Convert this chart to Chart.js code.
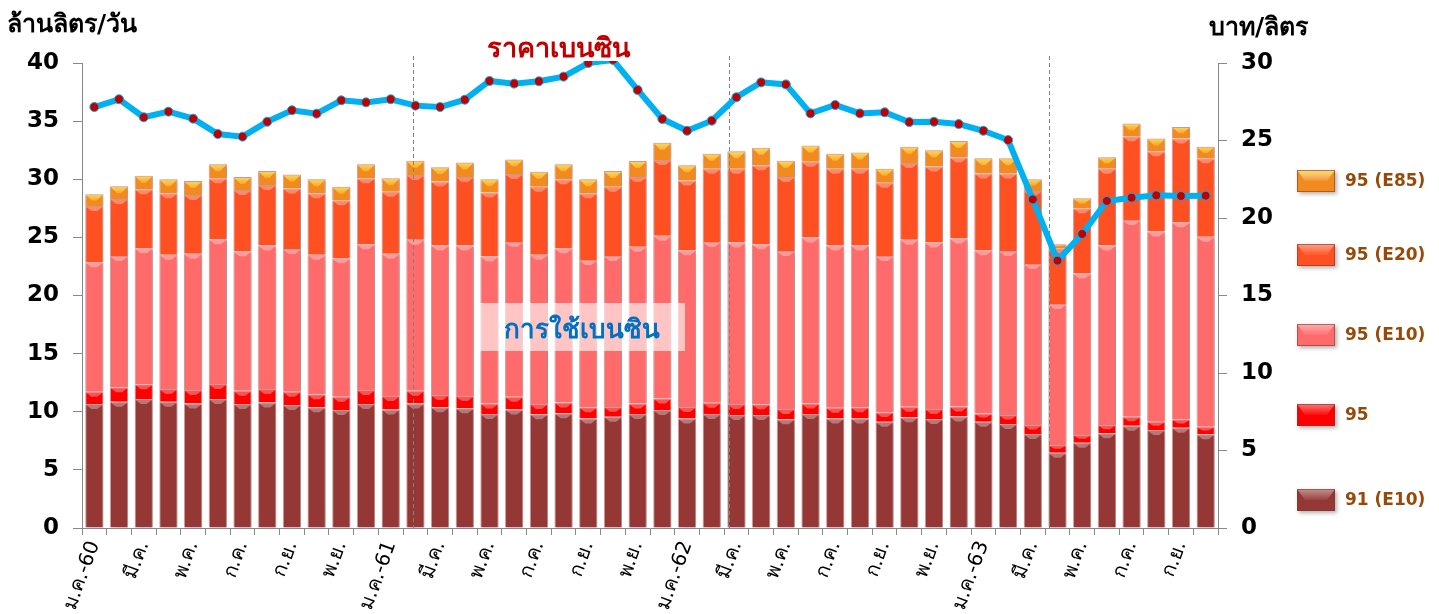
<!DOCTYPE html>
<html><head><meta charset="utf-8">
<script src="https://cdn.jsdelivr.net/npm/chart.js@4.4.0/dist/chart.umd.min.js"></script>
<style>html,body{margin:0;padding:0;background:#fff;overflow:hidden}#wrap{width:1439px;height:614px;position:relative}</style>
</head><body><div id="wrap"><canvas id="c" width="1439" height="614"></canvas></div>
<script>
const categories = ['ม.ค.-60','ก.พ.','มี.ค.','เม.ย.','พ.ค.','มิ.ย.','ก.ค.','ส.ค.','ก.ย.','ต.ค.','พ.ย.','ธ.ค.',
'ม.ค.-61','ก.พ.','มี.ค.','เม.ย.','พ.ค.','มิ.ย.','ก.ค.','ส.ค.','ก.ย.','ต.ค.','พ.ย.','ธ.ค.',
'ม.ค.-62','ก.พ.','มี.ค.','เม.ย.','พ.ค.','มิ.ย.','ก.ค.','ส.ค.','ก.ย.','ต.ค.','พ.ย.','ธ.ค.',
'ม.ค.-63','ก.พ.','มี.ค.','เม.ย.','พ.ค.','มิ.ย.','ก.ค.','ส.ค.','ก.ย.','ต.ค.'];
const tickLabels = categories.map((c,i)=> i%2===0 ? c : '');
const g91 = [10.67,10.87,11.1,10.87,10.7,11.1,10.67,10.8,10.58,10.38,10.15,10.67,10.2,10.7,10.38,10.3,9.8,10.2,9.78,9.87,9.43,9.58,9.8,10.15,9.43,9.8,9.72,9.72,9.35,9.8,9.43,9.43,9.15,9.52,9.38,9.6,9.15,8.95,8.09,6.48,7.34,8.14,8.8,8.43,8.63,8.06];
const g95 = [1.06,1.23,1.26,1.09,1.17,1.29,1.13,1.16,1.15,1.12,1.15,1.2,1.15,1.1,1.06,1.05,0.9,1.1,0.89,0.93,0.95,0.82,0.9,1.0,0.97,0.98,0.95,0.92,0.89,0.9,0.92,0.95,0.8,0.91,0.86,0.85,0.71,0.77,0.77,0.66,0.66,0.72,0.78,0.72,0.72,0.64];
const e10 = [11.12,11.3,11.7,11.54,11.73,12.44,12.0,12.34,12.27,12.0,11.9,12.53,12.25,13.0,12.86,12.95,12.65,13.3,12.83,13.26,12.67,13.0,13.5,14.0,13.5,13.82,13.88,13.76,13.59,14.3,13.95,13.92,13.45,14.37,14.31,14.45,14.04,14.11,13.84,12.13,13.9,15.44,16.92,16.35,16.95,16.36];
const e20 = [4.85,4.9,5.07,5.3,5.05,5.25,5.28,5.2,5.2,5.3,5.0,5.68,5.33,5.57,5.5,5.9,5.5,5.85,5.86,5.94,5.75,5.96,6.0,6.51,6.0,6.3,6.35,6.8,6.37,6.5,6.6,6.6,6.3,6.6,6.55,7.0,6.6,6.67,6.3,4.79,5.6,6.6,7.2,6.9,7.2,6.74];
const e85 = [1.0,1.1,1.17,1.2,1.2,1.2,1.12,1.2,1.2,1.2,1.16,1.2,1.15,1.23,1.23,1.25,1.15,1.25,1.29,1.3,1.2,1.34,1.37,1.49,1.3,1.3,1.5,1.5,1.4,1.4,1.3,1.4,1.2,1.4,1.4,1.4,1.3,1.3,1.0,0.34,0.86,1.0,1.1,1.1,1.0,1.0];
const price = [27.16,27.66,26.5,26.86,26.41,25.42,25.25,26.21,26.95,26.73,27.59,27.46,27.66,27.25,27.16,27.63,28.84,28.67,28.82,29.12,30.0,30.2,28.26,26.39,25.63,26.28,27.79,28.75,28.62,26.75,27.29,26.75,26.82,26.19,26.21,26.06,25.63,25.03,21.2,17.25,18.97,21.1,21.31,21.46,21.42,21.44];
const seriesNames = ['91 (E10)','95','95 (E10)','95 (E20)','95 (E85)'];
const dividers = [12.9, 25.7, 38.66];

const FONT = "Tahoma, 'DejaVu Sans', 'Noto Sans', sans-serif";
const colors = ['#953735','#FF0000','#FF6B6B','#FF5021','#F28A1E'];

const overlay = {
  id:'overlay',
  beforeDatasetDraw(chart,args){
    const ds = chart.data.datasets[args.index];
    if(ds.type==='bar'){
      const c=chart.ctx; c.save();
      c.shadowColor='rgba(0,0,0,0.18)'; c.shadowBlur=4; c.shadowOffsetX=2; c.shadowOffsetY=1;
    }
    if(ds.type==='line'){
      const c=chart.ctx, xs=chart.scales.x, ys=chart.scales.y;
      c.save(); c.strokeStyle='#808080'; c.lineWidth=1; c.setLineDash([4,3]);
      dividers.forEach(d=>{const px=Math.round(xs.getPixelForValue(d))+0.5;
        c.beginPath(); c.moveTo(px, ys.top-7); c.lineTo(px, ys.bottom); c.stroke();});
      c.restore();
    }
  },
  afterDatasetDraw(chart,args){
    const ds = chart.data.datasets[args.index];
    if(ds.type!=='bar') return;
    const c=chart.ctx; c.restore();
    const meta=chart.getDatasetMeta(args.index);
    c.save();
    meta.data.forEach(el=>{
      const {x,y,base,width}=el; const h=base-y; if(h<1) return;
      const l=x-width/2, r=x+width/2;
      if(ds.label==='95 (E85)'){
        const g=c.createLinearGradient(0,y,0,base);
        g.addColorStop(0,'rgba(255,225,100,0.95)'); g.addColorStop(0.5,'rgba(255,200,60,0.55)'); g.addColorStop(1,'rgba(230,110,20,0)');
        c.fillStyle=g; c.beginPath(); c.moveTo(l+1,y+1); c.lineTo(r-1,y+1); c.lineTo(x+2,y+Math.min(h*0.55,7)); c.lineTo(x-2,y+Math.min(h*0.55,7)); c.closePath(); c.fill();
      } else {
        const th=Math.min(5,h*0.5);
        c.fillStyle='rgba(255,255,255,0.32)';
        c.beginPath(); c.moveTo(l+1,y+1); c.lineTo(r-1,y+1); c.lineTo(x+3,y+th); c.lineTo(x-3,y+th); c.closePath(); c.fill();
      }
    });
    c.restore();
  },
  afterDraw(chart){
    const c=chart.ctx;
    c.save();
    c.fillStyle='#000'; c.font=`bold 25px ${FONT}`; c.textBaseline='alphabetic';
    c.textAlign='left'; c.fillText('ล้านลิตร/วัน', 7, 32);
    c.fillText('บาท/ลิตร', 1209, 35);
    c.fillStyle='#C00000'; c.font=`bold 27px ${FONT}`; c.textAlign='center';
    c.fillText('ราคาเบนซิน', 558, 57);
    c.fillStyle='rgba(255,255,255,0.6)'; c.fillRect(479,303,206,48);
    c.fillStyle='#0070C0'; c.font=`bold 26px ${FONT}`;
    c.fillText('การใช้เบนซิน', 582, 338);
    const ly=[181,255,335,415,500];
    const order=[4,3,2,1,0];
    order.forEach((si,k)=>{
      const cy=ly[k], bx=1297, bw=38, bh=22, by=cy-11;
      c.save(); c.shadowColor='rgba(0,0,0,0.3)'; c.shadowBlur=4; c.shadowOffsetX=2; c.shadowOffsetY=2;
      c.fillStyle=colors[si]; c.fillRect(bx,by,bw,bh); c.restore();
      const g=c.createLinearGradient(0,by,0,by+bh);
      g.addColorStop(0,si===4?'rgba(255,225,100,0.95)':'rgba(255,255,255,0.45)'); g.addColorStop(0.5,'rgba(255,255,255,0.05)'); g.addColorStop(1,'rgba(0,0,0,0.05)');
      c.fillStyle=g; c.beginPath(); c.moveTo(bx,by); c.lineTo(bx+bw,by); c.lineTo(bx+bw-8,by+bh*0.5); c.lineTo(bx+8,by+bh*0.5); c.closePath(); c.fill();
      c.strokeStyle='rgba(120,60,40,0.6)'; c.lineWidth=1; c.strokeRect(bx+0.5,by+0.5,bw-1,bh-1);
      c.fillStyle='#984807'; c.font=`bold 17px ${FONT}`; c.textAlign='left'; c.textBaseline='middle';
      c.fillText(seriesNames[si], 1345, cy+1);
    });
    c.restore();
  }
};

Chart.defaults.font.family = FONT;
const barDs = (i,data)=>({type:'bar',label:seriesNames[i],data,backgroundColor:colors[i],
  borderColor:'rgba(170,80,80,0.55)',borderWidth:1,stack:'s',order:1,yAxisID:'y',
  categoryPercentage:1.0,barPercentage:0.74});
new Chart(document.getElementById('c'),{
  data:{labels:categories,datasets:[
    {type:'line',label:'ราคาเบนซิน',data:price,yAxisID:'y1',borderColor:'#00B0F0',borderWidth:6,
     pointRadius:4.5,pointBackgroundColor:'#C00000',pointBorderColor:'#00B0F0',pointBorderWidth:1,
     tension:0,order:0,clip:{left:false,right:false,bottom:false,top:2}},
    barDs(0,g91),barDs(1,g95),barDs(2,e10),barDs(3,e20),barDs(4,e85)
  ]},
  options:{
    responsive:false,animation:false,devicePixelRatio:1,
    layout:{padding:{left:0,right:161,top:63,bottom:0}},
    plugins:{legend:{display:false},tooltip:{enabled:false}},
    scales:{
      x:{stacked:true,offset:true,
        grid:{display:true,drawOnChartArea:false,tickLength:7,color:'#888',offset:true},
        border:{color:'#888'},
        ticks:{autoSkip:false,maxRotation:70,minRotation:70,padding:3,color:'#000',font:{size:20},
          callback:(v,i)=>tickLabels[i]},
        afterFit:s=>{s.height=86}},
      y:{stacked:true,min:0,max:40,
        ticks:{stepSize:5,padding:14,color:'#000',font:{size:23,weight:'bold'}},
        grid:{drawOnChartArea:false,tickLength:9,color:'#888'},border:{color:'#888'},
        afterFit:s=>{s.width=82}},
      y1:{position:'right',min:0,max:30,
        ticks:{stepSize:5,padding:14,color:'#000',font:{size:23,weight:'bold'}},
        grid:{drawOnChartArea:false,tickLength:9,color:'#888'},border:{color:'#888'},
        afterFit:s=>{s.width=60}}
    }
  },
  plugins:[overlay]
});
</script></body></html>
